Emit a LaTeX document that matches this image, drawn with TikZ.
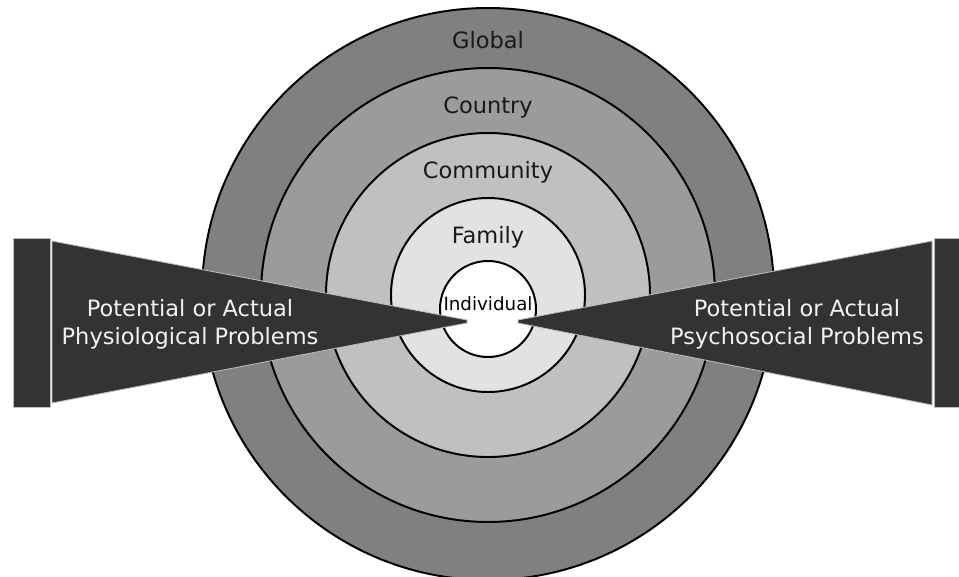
\documentclass[tikz,border=0pt]{standalone}
\usepackage{fontspec}
\setmainfont{DejaVu Sans}
\usepackage{tikz}
\definecolor{globalgray}{RGB}{128,128,128}
\definecolor{countrygray}{RGB}{155,155,155}
\definecolor{communitygray}{RGB}{192,192,192}
\definecolor{familygray}{RGB}{226,226,226}
\definecolor{wedgedark}{RGB}{51,51,51}
\definecolor{edgelight}{RGB}{190,190,190}

\begin{document}
\begin{tikzpicture}[
    x=0.25mm, y=-0.25mm,
    ring/.style={draw=black, line width=1.4pt, fill=#1},
    ringlabel/.style={anchor=base, inner sep=0pt, text=black!90, font=\fontsize{16}{19}\selectfont},
    wedge/.style={fill=wedgedark, draw=edgelight, line width=0.6pt},
    wedgetext/.style={align=center, inner sep=0pt, text=black!5, font=\fontsize{16}{19.9}\selectfont}
]
    \clip (0,0) rectangle (959,576);
    \fill[white] (0,0) rectangle (959,576);

    \draw[ring=globalgray] (488,294) circle (286);
    \draw[ring=countrygray] (488,295) circle (227);
    \draw[ring=communitygray] (488,295) circle (162);
    \draw[ring=familygray] (488,295) circle (97);
    \draw[ring=white] (488,309) circle (48);

    \node[ringlabel] (global) at (488,48) {Global};
    \node[ringlabel] (country) at (488,113) {Country};
    \node[ringlabel] (community) at (488,178) {Community};
    \node[ringlabel] (family) at (488,243) {Family};
    \node[ringlabel, font=\fontsize{13}{15}\selectfont, text=black] (individual) at (488,310) {Individual};

    \draw[wedge] (13,238) rectangle (50,407);
    \draw[wedge] (52,241) -- (467,320) -- (467,323) -- (52,403) -- cycle;
    \draw[wedge] (934,238) rectangle (975,407);
    \draw[wedge] (932,241) -- (518,320) -- (518,323) -- (932,405) -- cycle;

    \node[wedgetext] (physio) at (190,324) {Potential or Actual\\Physiological Problems};
    \node[wedgetext] (psycho) at (797,324) {Potential or Actual\\Psychosocial Problems};
\end{tikzpicture}
\end{document}
